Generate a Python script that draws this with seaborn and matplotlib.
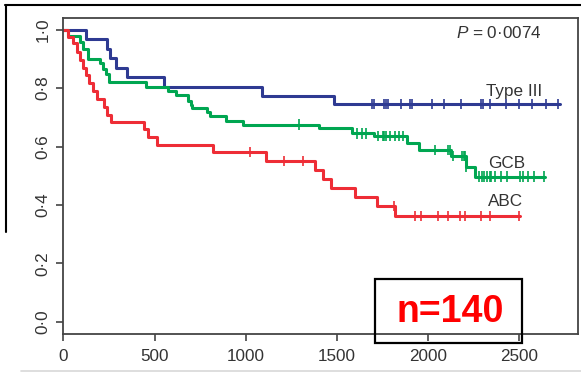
import numpy as np
import pandas as pd
import matplotlib
matplotlib.use("Agg")
import matplotlib.pyplot as plt
import seaborn as sns
from matplotlib.patches import Rectangle
from matplotlib.lines import Line2D

# Kaplan-Meier steps (days, survival after the drop)
type3_times = [0, 124, 241, 256, 289, 347, 552, 1091, 1484]
type3_surv = [1.0, 0.967, 0.933, 0.902, 0.870, 0.839, 0.805, 0.774, 0.745]
type3_end = 2723
type3_censor = [1694, 1703, 1760, 1768, 1778, 1850, 1903, 1912, 2021, 2087,
                2180, 2290, 2299, 2339, 2425, 2500, 2568, 2645, 2711]

gcb_times = [0, 27, 90, 108, 137, 201, 219, 236, 252, 455, 576, 615, 683,
             700, 708, 786, 804, 892, 987, 1404, 1581, 1705, 1883, 1952,
             2125, 2208, 2257]
gcb_surv = [1.0, 0.978, 0.957, 0.935, 0.900, 0.885, 0.865, 0.848, 0.822,
            0.805, 0.791, 0.776, 0.755, 0.742, 0.731, 0.717, 0.704, 0.688,
            0.675, 0.662, 0.645, 0.636, 0.611, 0.588, 0.568, 0.531, 0.497]
gcb_end = 2641
gcb_censor = [1294, 1608, 1636, 1660, 1727, 1750, 1758, 1769, 1791, 1819,
              1842, 1864, 2038, 2111, 2120, 2138, 2184, 2195, 2202, 2210,
              2281, 2294, 2308, 2321, 2338, 2345, 2367, 2400, 2431, 2504,
              2522, 2549, 2581, 2636]

abc_times = [0, 27, 51, 77, 92, 110, 124, 143, 161, 187, 223, 241, 260, 442,
             466, 515, 822, 1110, 1380, 1422, 1466, 1597, 1718, 1819]
abc_surv = [1.0, 0.974, 0.953, 0.925, 0.896, 0.868, 0.845, 0.819, 0.791,
            0.762, 0.734, 0.708, 0.683, 0.659, 0.634, 0.605, 0.580, 0.550,
            0.521, 0.488, 0.457, 0.428, 0.397, 0.363]
abc_end = 2504
abc_censor = [1024, 1210, 1316, 1813, 1928, 1960, 2053, 2109, 2175, 2202,
              2288, 2339, 2500]

groups = ["Type III", "GCB", "ABC"]
colors = {"Type III": "#2e3a92", "GCB": "#00a651", "ABC": "#ee2d36"}
x_ticks = [0, 500, 1000, 1500, 2000, 2500]
y_ticks = [0.0, 0.2, 0.4, 0.6, 0.8, 1.0]
y_ticklabels = ["0·0", "0·2", "0·4", "0·6", "0·8", "1·0"]

series = {
    "Type III": (type3_times, type3_surv, type3_end, type3_censor),
    "GCB": (gcb_times, gcb_surv, gcb_end, gcb_censor),
    "ABC": (abc_times, abc_surv, abc_end, abc_censor),
}

step_rows, cens_rows = [], []
for g, (t, s, end, cens) in series.items():
    t = np.array(t)
    s = np.array(s)
    for ti, si in zip(t, s):
        step_rows.append((g, ti, si))
    step_rows.append((g, end, s[-1]))
    idx = np.searchsorted(t, cens, side="right") - 1
    for c, i in zip(cens, idx):
        cens_rows.append((g, c, s[i]))
steps = pd.DataFrame(step_rows, columns=["group", "time", "surv"])
censored = pd.DataFrame(cens_rows, columns=["group", "time", "surv"])

sns.set_style("ticks")
plt.rcParams["font.family"] = ["Liberation Sans", "DejaVu Sans"]
plt.rcParams["mathtext.fontset"] = "custom"
plt.rcParams["mathtext.it"] = "Liberation Sans:italic"
plt.rcParams["mathtext.rm"] = "Liberation Sans"

fig = plt.figure(figsize=(5.81, 3.72), dpi=100)
ax = fig.add_axes([0.109, 0.1022, 0.8853, 0.8486])

sns.lineplot(data=steps, x="time", y="surv", hue="group", palette=colors,
             estimator=None, drawstyle="steps-post", linewidth=2.2,
             legend=False, ax=ax)
sns.scatterplot(data=censored, x="time", y="surv", hue="group",
                palette=colors, marker="|", s=55, linewidth=1.2,
                legend=False, ax=ax)

ax.set_xlim(0, 2820)
ax.set_ylim(-0.042, 1.039)
ax.set_xticks(x_ticks)
ax.set_xticklabels([str(v) for v in x_ticks])
ax.set_yticks(y_ticks)
ax.set_yticklabels(y_ticklabels, rotation=90, va="center")
ax.set_xlabel("")
ax.set_ylabel("")
ax.tick_params(axis="both", labelsize=12.3, colors="#444444",
               labelcolor="#333333", length=5, width=1.2)
ax.tick_params(axis="x", pad=6)
ax.tick_params(axis="y", pad=4)
for sp in ax.spines.values():
    sp.set_color("#444444")
    sp.set_linewidth(1.3)

txt_color = "#333333"
ax.text(2622, 0.988, "$P$ = 0·0074", ha="right", va="center",
        fontsize=12.3, color=txt_color)
ax.text(2318, 0.788, "Type III", ha="left", va="center", fontsize=12.3,
        color=txt_color)
ax.text(2328, 0.543, "GCB", ha="left", va="center", fontsize=12.3,
        color=txt_color)
ax.text(2328, 0.410, "ABC", ha="left", va="center", fontsize=12.3,
        color=txt_color)

# n=140 annotation box
W, H = 581, 372
fig.add_artist(Rectangle((375 / W, 1 - 343.3 / H), 146.7 / W, 64.3 / H,
                         transform=fig.transFigure, fill=False,
                         edgecolor="black", linewidth=1.6))
fig.text(450 / W, 1 - 311.7 / H, "n=140", ha="center", va="center",
         fontsize=27, fontweight="bold", color="#ff0000")

# slide frame remnants
fig.add_artist(Line2D([5 / W, 1], [1 - 5 / H, 1 - 5 / H],
                      transform=fig.transFigure, color="black", lw=1.5))
fig.add_artist(Line2D([5.5 / W, 5.5 / W], [1 - 5 / H, 1 - 232 / H],
                      transform=fig.transFigure, color="black", lw=1.5))
fig.add_artist(Line2D([21 / W, 1], [1 - 370.5 / H, 1 - 370.5 / H],
                      transform=fig.transFigure, color="#d8d8d8", lw=1.2))

fig.savefig("out.png", dpi=100)
